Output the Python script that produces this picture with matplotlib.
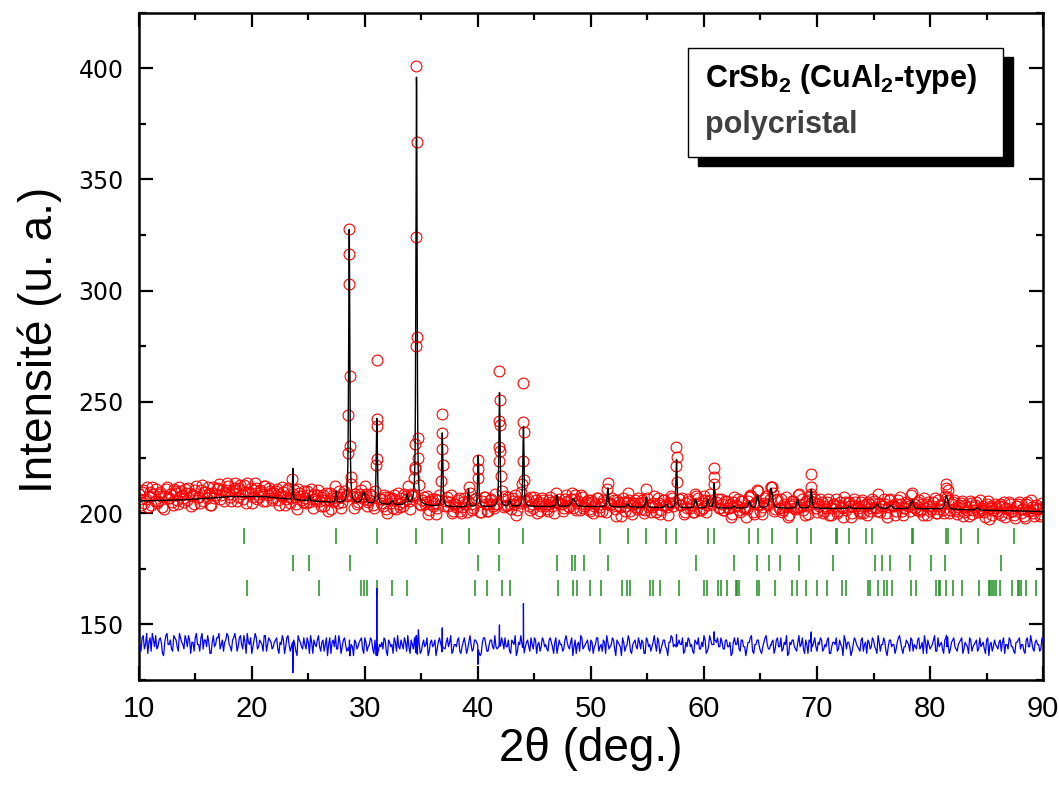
import numpy as np
import matplotlib
matplotlib.use('Agg')
import matplotlib.pyplot as plt
from matplotlib.patches import Rectangle
from matplotlib.ticker import MultipleLocator

plt.rcParams['font.family'] = ['Liberation Sans', 'DejaVu Sans']
plt.rcParams['mathtext.fontset'] = 'custom'
plt.rcParams['mathtext.rm'] = 'Liberation Sans'
plt.rcParams['mathtext.bf'] = 'Liberation Sans:bold'

# ---------------- data ----------------
# background of the calculated profile
bg_x = [10, 14, 18, 21, 24, 28, 34, 38, 45, 50, 60, 70, 80, 85, 90]
bg_y = [205.5, 206.0, 207.5, 207.5, 206.0, 204.5, 203.5, 202.8, 203.0, 203.0,
        202.3, 202.2, 202.0, 201.3, 200.8]

# calculated reflections: position (deg), height above background, FWHM (deg)
peak_pos = [23.63, 25.10, 27.46, 28.62, 29.90, 31.06, 32.42, 33.72, 34.57, 36.85,
            39.17, 40.03, 41.91, 42.82, 44.03, 46.99, 48.45, 51.50, 53.24, 54.89,
            56.66, 57.57, 59.25, 60.35, 60.90, 62.65, 64.01, 64.74, 65.93, 68.28,
            69.49, 72.86, 75.30, 76.50, 78.41, 81.45, 84.20]
peak_amp = [14.0, 2.5, 5.0, 123.0, 5.0, 38.5, 2.0, 4.5, 192.5, 33.0,
            8.0, 23.0, 51.3, 3.0, 36.0, 5.0, 3.5, 8.5, 1.5, 4.5,
            1.5, 21.7, 4.0, 4.0, 11.1, 1.0, 3.0, 6.0, 9.0, 4.0,
            8.6, 1.0, 2.0, 1.5, 4.0, 6.0, 1.0]
peak_fwhm = [0.06, 0.10, 0.12, 0.12, 0.35, 0.12, 0.20, 0.20, 0.12, 0.12,
             0.13, 0.12, 0.12, 0.20, 0.12, 0.15, 0.40, 0.15, 0.20, 0.15,
             0.20, 0.12, 0.20, 0.20, 0.12, 0.20, 0.20, 0.20, 0.30, 0.20,
             0.16, 0.20, 0.30, 0.30, 0.25, 0.30, 0.30]

# observed scan: deviation of each point from the fit
# series A: 10.0, 10.2, ... 90.0 ; series B: 10.1, 10.3, ... 89.9
scan_step = 0.2
scan_start_a = 10.0
obs_dev_a = [
    3, -2, 5, 1, -3, 4, 6, 0, -1, 3, 2, -4, 5, 1, 3, -2, 4, 0, 6, 2,
    -1, 3, 5, -3, 2, 4, 1, -2, 6, 3, 0, 2, -3, 5, 1, 4, -1, 3, 2, 6,
    1, -2, 4, 3, 0, 5, -1, 2, 6, 1, -3, 3, 4, 0, 2, -2, 5, 1, 3, -1,
    2, 4, -3, 1, 3, 0, 5, -2, 2, 1, -4, 3, 0, 4, -1, 2, 5, -3, 1, 3,
    0, 2, -2, 4, 1, -3, 3, 5, -1, 2, 0, 4, -2, 3, 1, -4, 2, 0, 3, -1,
    4, -2, 1, 3, -3, 2, 5, 0, -1, 3, -4, 2, 1, 4, -2, 0, 3, -1, 2, 5,
    -3, 1, 4, 0, 2, -2, 3, 1, -4, 2, 0, 3, -1, 4, 1, -3, 2, 0, 5, -2,
    1, 3, -2, 0, 4, -3, 2, 1, -1, 3, 0, -4, 2, 4, -2, 1, 3, -1, 0, 2,
    -3, 2, 4, 0, -2, 3, 1, -4, 2, 5, -1, 0, 3, -2, 1, 4, -3, 2, 0, 3,
    1, -2, 4, 0, 2, -3, 3, 1, -1, 5, 0, 2, -4, 3, 1, -2, 4, 0, 2, -1,
    3, -3, 1, 4, 0, -2, 2, 5, -1, 1, 3, -4, 2, 0, 4, -2, 1, 3, -3, 2,
    0, 4, -1, 2, -3, 3, 1, 0, 5, -2, 2, -1, 3, 0, -4, 2, 4, 1, -2, 3,
    1, -3, 2, 4, 0, -2, 3, 1, -1, 2, 5, -3, 0, 3, 1, -2, 4, 0, 2, -1,
    3, 0, -4, 2, 1, 4, -2, 3, 0, -1, 2, 5, -3, 1, 3, -2, 0, 4, 1, -1,
    2, -3, 3, 0, 4, -1, 1, -4, 2, 3, 0, -2, 5, 1, -1, 3, -3, 2, 0, 4,
    -2, 1, 3, -1, 0, 4, -3, 2, 1, -2, 3, 0, 5, -1, 2, -4, 1, 3, 0, -2,
    4, 1, -3, 2, 0, 3, -1, 5, -2, 1, 2, -4, 3, 0, 1, -1, 4, 2, -3, 0,
    2, -2, 3, 1, -1, 4, 0, -3, 2, 3, -1, 1, 5, -2, 0, 2, -3, 4, 1, -1,
    3, 0, -2, 2, 4, -1, 1, -3, 3, 0, 2, -2, 4, 1, -1, 3, -4, 2, 0, 1,
    -1, 3, 2, -3, 1, 4, 0, -2, 2, 3, -1, 1, -3, 4, 0, 2, -2, 3, 1, -1,
    2,
]
scan_start_b = 10.1
obs_dev_b = [
    1, 4, -1, 6, 2, -2, 3, 5, 0, 4, -3, 2, 6, 1, -1, 5, 3, -2, 4, 1,
    5, 0, 3, 2, -2, 6, 1, 4, -1, 3, 5, -3, 2, 0, 4, 6, 1, -2, 3, 5,
    0, 3, 6, -2, 4, 1, 5, -3, 2, 4, 0, 6, -1, 3, 1, 5, -2, 4, 2, 0,
    3, -1, 2, 5, -3, 4, 1, 0, 3, -2, 5, 2, -1, 1, 4, -3, 2, 3, 0, 5,
    -2, 3, 1, -4, 4, 2, 0, -1, 5, -3, 3, 1, 4, -2, 0, 3, -1, 2, 4, -3,
    2, 0, 4, -1, 3, -4, 1, 2, 4, -2, 3, 0, -3, 2, 5, -1, 1, 4, -2, 0,
    3, -1, 2, 5, -3, 1, 0, 4, -2, 3, 1, -4, 2, 0, 3, -1, 4, 2, -3, 1,
    0, 4, -3, 2, 1, -1, 5, -2, 3, 0, 2, -3, 4, 1, -2, 3, 0, 5, -1, 2,
    4, -1, 0, 3, -3, 2, 5, -2, 1, 3, -4, 2, 0, 4, -1, 3, 1, -2, 4, 0,
    -1, 3, 2, -3, 4, 0, 1, -2, 3, 2, -1, 4, 0, -3, 2, 5, -1, 1, 3, -2,
    2, 0, 4, -2, 1, 3, -3, 2, 0, 4, -1, 3, 1, -4, 2, 0, 5, -2, 1, 3,
    -1, 2, 3, -3, 4, 0, -2, 2, 1, 4, -3, 1, 3, -1, 2, 5, 0, -2, 3, 1,
    4, -2, 0, 3, 1, -3, 2, 4, -1, 0, 3, -2, 5, 1, -3, 2, 0, 4, -1, 3,
    0, 2, -3, 4, 1, -1, 3, 0, -4, 2, 4, -2, 1, 3, 0, -3, 2, 5, -1, 1,
    3, -1, 4, 0, -2, 2, 5, -3, 1, 3, -1, 2, 0, 4, -3, 1, 3, -2, 2, 0,
    2, 4, -2, 1, 3, -3, 0, 2, 4, -1, 1, -4, 3, 2, 0, -2, 4, 1, -1, 3,
    -2, 2, 3, -1, 4, 0, -3, 2, 1, 4, -2, 0, 3, 1, -3, 2, 5, -1, 0, 3,
    1, 4, -2, 0, 3, -1, 2, 5, -3, 1, 0, 3, -2, 4, 1, -1, 3, 0, -3, 2,
    4, -1, 1, 3, -3, 2, 0, 4, -2, 1, 3, -1, 0, 2, -3, 4, 1, -2, 3, 0,
    2, -2, 4, 1, -1, 3, 0, -3, 2, 4, 1, -2, 3, 0, 5, -1, 2, 1, -2, 4,
]

# strong reflections where the scan points are listed individually
strong_pos = [28.62, 31.06, 34.57, 36.85, 40.03, 41.91, 44.03, 57.57, 60.90]
peak_obs_x = [23.63,
              28.620, 28.643, 28.590, 28.680, 28.539, 28.720, 28.513, 28.760,
              31.060, 31.075, 31.045, 31.107, 31.005,
              34.570, 34.597, 34.520, 34.640, 34.497, 34.690, 34.445, 34.735, 34.405, 34.370,
              36.850, 36.862, 36.823, 36.902, 36.772,
              40.040, 40.010, 39.990,
              41.910, 41.928, 41.873, 41.950, 41.852, 41.972, 41.839, 42.002,
              44.030, 44.022, 44.050, 43.978, 44.100, 43.942,
              57.570, 57.585, 57.545, 57.627,
              60.900, 60.915, 60.875,
              69.490, 69.510, 65.930, 81.450, 81.550]
peak_obs_y = [208.5,
              327.9, 316.3, 303.2, 261.9, 244.1, 230.3, 226.9, 216.4,
              268.9, 242.4, 239.0, 224.5, 221.5,
              401.0, 367.0, 324.0, 279.0, 275.0, 234.0, 231.0, 225.0, 220.0, 216.0,
              244.6, 236.0, 228.8, 221.9, 214.6,
              223.9, 216.0, 220.0,
              264.1, 250.9, 241.6, 239.7, 229.9, 228.0, 223.6, 216.7,
              258.4, 240.8, 236.6, 223.6, 215.0, 213.0,
              229.6, 225.1, 221.2, 214.2,
              220.2, 216.4, 213.0,
              217.5, 212.0, 212.0, 213.0, 210.4]

# Bragg reflection positions (three phases)
bragg1 = [19.32, 27.46, 31.06, 34.57, 36.84, 39.20, 41.91, 44.01, 50.82, 53.24,
          54.88, 56.65, 57.55, 60.35, 60.90, 64.02, 64.74, 65.98, 68.26, 69.47,
          71.68, 71.78, 72.86, 74.37, 74.84, 78.41, 78.45, 81.42, 81.62, 82.74,
          84.21, 87.43]
bragg2 = [23.63, 25.10, 28.67, 40.00, 41.88, 46.99, 48.33, 48.60, 49.41, 51.50,
          59.29, 62.68, 64.69, 65.78, 66.73, 68.41, 71.38, 75.16, 75.75, 76.42,
          78.19, 80.09, 81.29, 86.31]
bragg3 = [19.57, 25.91, 29.63, 29.90, 30.20, 31.06, 32.42, 33.73, 39.73, 40.85,
          42.13, 42.80, 47.08, 48.39, 48.80, 49.91, 50.87, 52.74, 53.17, 53.48,
          55.25, 55.49, 56.09, 57.77, 59.98, 60.27, 61.25, 61.47, 62.03, 62.81,
          62.93, 63.13, 64.69, 64.86, 66.31, 67.79, 68.26, 69.03, 70.00, 70.88,
          72.21, 72.54, 74.51, 74.69, 75.40, 75.90, 76.19, 76.64, 78.32, 78.76,
          80.56, 80.80, 80.91, 81.42, 82.00, 82.83, 84.30, 85.19, 85.33, 85.49,
          85.69, 85.81, 86.22, 87.23, 87.79, 87.90, 88.02, 88.47, 89.38]

diff_offset = 140.0


# ---------------- model profile ----------------
def calc_profile(x):
    x = np.asarray(x, dtype=float)
    y = np.interp(x, bg_x, bg_y)
    for c, a, w in zip(peak_pos, peak_amp, peak_fwhm):
        d = (x - c) / w
        y = y + a * (0.6 / (1.0 + 4.0 * d * d) + 0.4 * np.exp(-4.0 * np.log(2.0) * d * d))
    return y


x_fine = np.arange(10.0, 90.0 + 1e-9, 0.005)
y_calc = calc_profile(x_fine)

x_scan = np.concatenate([scan_start_a + scan_step * np.arange(len(obs_dev_a)),
                         scan_start_b + scan_step * np.arange(len(obs_dev_b))])
dev = np.concatenate([np.asarray(obs_dev_a, float), np.asarray(obs_dev_b, float)])
y_scan = calc_profile(x_scan) + dev
keep = np.ones_like(x_scan, dtype=bool)
for c in strong_pos:
    keep &= np.abs(x_scan - c) > 0.15

x_obs = np.concatenate([x_scan[keep], np.asarray(peak_obs_x)])
y_obs = np.concatenate([y_scan[keep], np.asarray(peak_obs_y)])
order = np.argsort(x_obs)
x_obs = x_obs[order]
y_obs = y_obs[order]
y_diff = y_obs - calc_profile(x_obs) + diff_offset

# ---------------- figure ----------------
fig = plt.figure(figsize=(10.59, 7.89), dpi=100)
ax = fig.add_axes([0.131, 0.138, 0.854, 0.846])

ax.plot(x_obs, y_obs, linestyle='none', marker='o', ms=7.8, mfc='none',
        mec='#ff0000', mew=0.8, zorder=2)
ax.plot(x_fine, y_calc, color='black', lw=1.0, zorder=3)
ax.plot(x_obs, y_diff, color='#0000ff', lw=0.9, zorder=3)

green = '#1f8f1f'
ax.vlines(bragg1, 186.2, 193.3, color=green, lw=1.1, zorder=2)
ax.vlines(bragg2, 174.0, 181.3, color=green, lw=1.1, zorder=2)
ax.vlines(bragg3, 163.0, 170.1, color=green, lw=1.1, zorder=2)

ax.set_xlim(10, 90)
ax.set_ylim(125, 425)
ax.xaxis.set_major_locator(MultipleLocator(10))
ax.xaxis.set_minor_locator(MultipleLocator(5))
ax.yaxis.set_major_locator(MultipleLocator(50))
ax.yaxis.set_minor_locator(MultipleLocator(25))
ax.tick_params(which='both', direction='in', top=True, right=True, width=1.6)
ax.tick_params(which='major', length=10)
ax.tick_params(which='minor', length=5)
ax.tick_params(axis='x', pad=11)
ax.tick_params(axis='y', pad=11)
for s in ax.spines.values():
    s.set_linewidth(1.8)

for lab in ax.get_xticklabels():
    lab.set_fontfamily(['Liberation Sans Narrow', 'Liberation Sans'])
    lab.set_fontsize(21)
for lab in ax.get_yticklabels():
    lab.set_fontfamily(['DejaVu Sans'])
    lab.set_fontsize(17)

ax.set_xlabel('2θ (deg.)', fontsize=33)
ax.set_ylabel('Intensité (u. a.)', fontsize=33)
ax.xaxis.set_label_coords(0.5, -0.07)
ax.yaxis.set_label_coords(-0.085, 0.51)

# legend-like box with shadow
bx0, by0, bw, bh = 688 / 1059, 1 - 157 / 789, (1003 - 688) / 1059, (157 - 48) / 789
fig.add_artist(Rectangle((bx0 + 10 / 1059, by0 - 9 / 789), bw, bh, transform=fig.transFigure,
                         facecolor='black', edgecolor='black', zorder=5))
fig.add_artist(Rectangle((bx0, by0), bw, bh, transform=fig.transFigure,
                         facecolor='white', edgecolor='black', lw=1.0, zorder=6))
fig.text(705 / 1059, 1 - 87 / 789, 'CrSb$_\\mathbf{2}$ (CuAl$_\\mathbf{2}$-type)',
         fontsize=22, fontweight='bold', va='baseline', ha='left', zorder=7)
fig.text(705 / 1059, 1 - 133 / 789, 'polycristal', color='#404040',
         fontsize=22, fontweight='bold', va='baseline', ha='left', zorder=7)

fig.savefig('out.png', dpi=100)
